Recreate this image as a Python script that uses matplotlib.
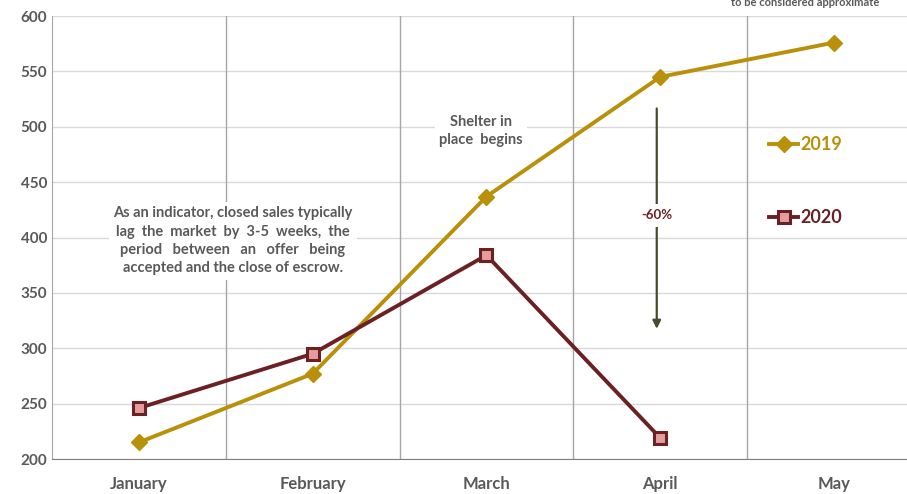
import matplotlib.pyplot as plt
import numpy as np

months = ["January", "February", "March", "April", "May"]
sales_2019 = [215, 277, 437, 545, 576]
sales_2020 = [246, 295, 384, 219]
drop_label = "-60%"

GOLD = "#B8900A"
MAROON = "#6B2024"
PINK = "#E59C9C"
TEXT = "#595959"

plt.rcParams["font.family"] = ["Lato", "DejaVu Sans"]

fig = plt.figure(figsize=(9.07, 4.94), dpi=100)
ax = fig.add_axes([52 / 907, 35 / 494, 855 / 907, 443 / 494])

x = np.arange(len(months))
ax.plot(x, sales_2019, color=GOLD, lw=2.8, marker="D", ms=8,
        mfc=GOLD, mec=GOLD, label="2019", zorder=4)
ax.plot(x[:len(sales_2020)], sales_2020, color=MAROON, lw=2.8, marker="s", ms=9,
        mfc=PINK, mec=MAROON, mew=2.2, label="2020", zorder=5)

ax.set_xlim(-0.5, 4.42)
ax.set_ylim(200, 600)
ax.set_yticks(np.arange(200, 601, 50))
ax.set_xticks(x)
ax.set_xticklabels(months)
ax.grid(axis="y", color="#D9D9D9", lw=1)
ax.set_axisbelow(True)
for sep in np.arange(0.5, 4.0, 1.0):
    ax.axvline(sep, color="#A6A6A6", lw=1, zorder=1)

for side in ["top", "right"]:
    ax.spines[side].set_visible(False)
ax.spines["left"].set_color("#A6A6A6")
ax.spines["bottom"].set_color("#7F7F7F")
ax.tick_params(length=0, colors=TEXT, labelsize=11)
ax.tick_params(axis="x", pad=12, labelsize=12)
for lbl in ax.get_xticklabels() + ax.get_yticklabels():
    lbl.set_fontweight("bold")

box = dict(facecolor="white", edgecolor="none", pad=3)
ax.text(0.54, 397, "As an indicator, closed sales typically\n"
        "lag  the  market  by  3-5  weeks,  the\n"
        "period   between   an   offer   being\n"
        "accepted and the close of escrow.",
        ha="center", va="center", fontsize=10.5, fontweight="bold",
        color=TEXT, linespacing=1.4, bbox=box, zorder=6)
ax.text(1.97, 496, "Shelter in\nplace  begins", ha="center", va="center",
        fontsize=10.5, fontweight="bold", color=TEXT, linespacing=1.4,
        bbox=box, zorder=6)

# percentage drop arrow in April
ax.annotate("", xy=(2.98, 315), xytext=(2.98, 519),
            arrowprops=dict(arrowstyle="-|>", color="#4A4A2E", lw=1.6,
                            mutation_scale=12), zorder=3)
ax.text(2.98, 420, drop_label, ha="center", va="center", fontsize=9.5,
        fontweight="bold", color=MAROON,
        bbox=dict(facecolor="white", edgecolor="none", pad=4), zorder=6)

leg = ax.legend(loc="upper left", bbox_to_anchor=(0.82, 0.765), frameon=False,
                labelspacing=3.1, handlelength=1.6, handletextpad=0.1,
                prop={"size": 13, "weight": "bold"})
for txt, col in zip(leg.get_texts(), [GOLD, MAROON]):
    txt.set_color(col)

fig.text(805 / 907, 1.0 - 6 / 494, "to be considered approximate", ha="center",
         va="baseline", fontsize=8, fontweight="bold", color=TEXT)

fig.savefig("out.png", dpi=100)
